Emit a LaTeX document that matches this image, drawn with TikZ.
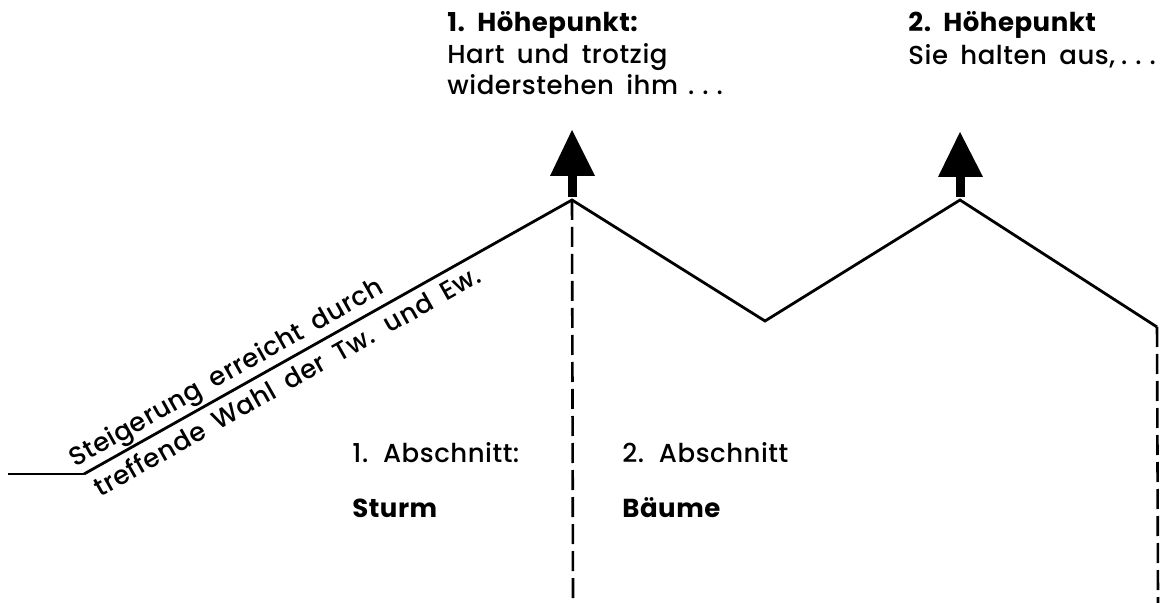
\documentclass[tikz,border=0pt]{standalone}
\usepackage{fontspec}
\setmainfont{Poppins}[UprightFont=* Medium, BoldFont=* Bold, WordSpace=1.7, LetterSpace=2]
\newcommand{\spdots}{.\hspace{4pt}.\hspace{4pt}.}
\begin{document}
\begin{tikzpicture}[x=0.5pt,y=-0.5pt,
  ridge/.style={line width=1.4pt, line join=miter, line cap=butt},
  divider/.style={line width=1.3pt, dash pattern=on 10pt off 3.5pt},
  lbl/.style={anchor=base west, inner sep=0pt, font=\fontsize{13}{15}\selectfont},
  hd/.style={lbl, font=\fontsize{13}{15}\selectfont\bfseries},
  peakarrow/.style={fill=black}]
\useasboundingbox (0,0) rectangle (1170,603);
% skeleton
\coordinate (start) at (8,474);
\coordinate (kink) at (84,474);
\coordinate (p1) at (572,200);
\coordinate (v1) at (765,321);
\coordinate (p2) at (960,200);
\coordinate (end) at (1157,327);
\coordinate (b1) at (573,603);
\coordinate (b2) at (1158,603);
\draw[ridge] (start) -- (kink);
\draw[ridge] (kink) -- (p1) -- (v1) -- (p2) -- (end);
\draw[divider] (p1) -- (b1);
\draw[divider] (end) -- (b2);
% arrows at peaks
\fill[peakarrow] (568,175) rectangle (577,197);
\fill[peakarrow] (550,176) -- (595,176) -- (572,130) -- cycle;
\fill[peakarrow] (956,176) rectangle (965,197);
\fill[peakarrow] (938,177) -- (983,177) -- (960,132) -- cycle;
% top texts
\node[hd]  (h1)  at (447,32) {1. Höhepunkt:};
\node[lbl] (h1a) at (447,64) {Hart und trotzig};
\node[lbl] (h1b) at (447,95) {widerstehen ihm\hspace{5pt}\spdots};
\node[hd]  (h2)  at (908,32) {2. Höhepunkt};
\node[lbl] (h2a) at (908,65) {Sie halten aus,\hspace{3pt}\spdots};
% slanted texts
\node[lbl, rotate=29.5, anchor=base west] (s1) at (75,468) {Steigerung erreicht durch};
\node[lbl, rotate=29.5, anchor=north west] (s2) at (90,480) {treffende Wahl der Tw. und Ew.};
% sections
\node[lbl] (a1) at (352,462) {1. Abschnitt:};
\node[hd]  (a1n) at (352,517) {Sturm};
\node[lbl] (a2) at (622,462) {2. Abschnitt};
\node[hd]  (a2n) at (622,517) {Bäume};
\end{tikzpicture}
\end{document}
